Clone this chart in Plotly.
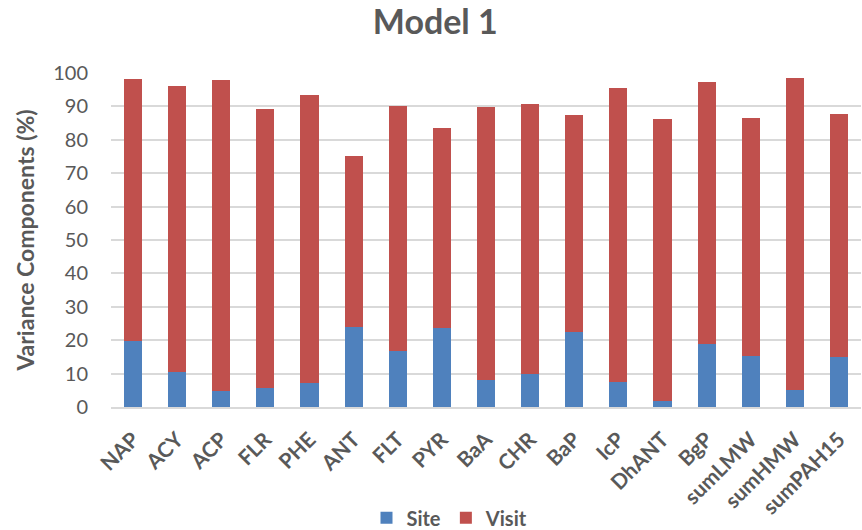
import plotly.graph_objects as go

categories = ["NAP", "ACY", "ACP", "FLR", "PHE", "ANT", "FLT", "PYR", "BaA", "CHR",
              "BaP", "IcP", "DhANT", "BgP", "sumLMW", "sumHMW", "sumPAH15"]
site = [19.7, 10.4, 4.7, 5.7, 7.1, 23.9, 16.7, 23.7, 8.1, 9.9,
        22.5, 7.5, 1.7, 18.9, 15.3, 5.1, 14.9]
total = [98.3, 96.2, 98.0, 89.3, 93.5, 75.2, 90.2, 83.6, 89.9, 90.8,
         87.5, 95.6, 86.3, 97.4, 86.6, 98.6, 87.8]
visit = [round(t - s, 1) for t, s in zip(total, site)]
y_ticks = [0, 10, 20, 30, 40, 50, 60, 70, 80, 90, 100]

grey = "#595959"
fnt = "Lato, Open Sans, sans-serif"

fig = go.Figure()
fig.add_trace(go.Bar(x=categories, y=site, name="<b>Site</b>", marker_color="#4f81bd",
                     marker_line_width=0))
fig.add_trace(go.Bar(x=categories, y=visit, name="<b>Visit</b>", marker_color="#c0504d",
                     marker_line_width=0))

fig.update_layout(
    barmode="stack",
    bargap=0.59,
    width=862, height=530,
    plot_bgcolor="white", paper_bgcolor="white",
    margin=dict(l=111, r=1, t=73, b=123),
    font=dict(family=fnt, color=grey),
    title=dict(text="<b>Model 1</b>", x=0.505, xanchor="center", y=0.958, yanchor="middle",
               font=dict(size=34, color=grey, family=fnt)),
    legend=dict(orientation="h", x=0.452, xanchor="center", y=0.023, yanchor="middle",
                yref="container", font=dict(size=20, color=grey, family=fnt),
                itemwidth=30, traceorder="normal"),
    xaxis=dict(tickangle=-45, tickfont=dict(size=21, color=grey, family=fnt),
               showgrid=False, showline=True, linecolor="#d9d9d9", linewidth=2,
               ticks="", ticklabelstandoff=10, automargin=False),
    yaxis=dict(range=[0, 100], tickvals=y_ticks, automargin=False,
               tickfont=dict(size=20, color=grey, family=fnt),
               showgrid=True, gridcolor="#d9d9d9", gridwidth=1.5,
               zeroline=False, ticks="", ticklabelstandoff=22,
               title=dict(text="<b>Variance Components (%)</b>",
                          font=dict(size=23, color=grey, family=fnt), standoff=12)),
)
fig.update_xaxes(tickprefix="<b>", ticksuffix="</b>")

fig.write_html("out.html")
